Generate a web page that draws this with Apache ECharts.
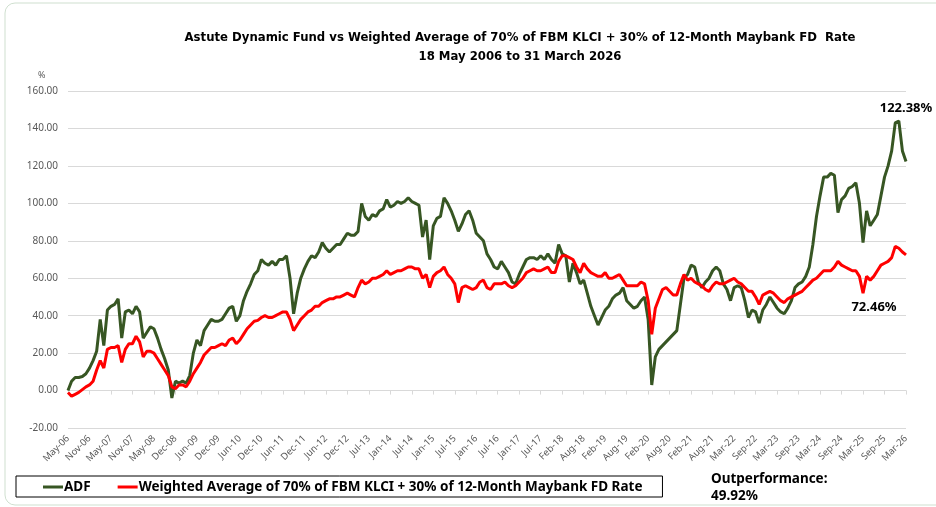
<!DOCTYPE html>
<html>
<head>
<meta charset="utf-8">
<script src="https://cdn.jsdelivr.net/npm/echarts@6/dist/echarts.min.js"></script>
<style>
  html, body { margin: 0; padding: 0; background: #fff; }
  #chart { width: 936px; height: 507px; }
</style>
</head>
<body>
<div id="chart"></div>
<script>
// tick labels on the x axis (one every 6 points)
var tickLabels = ['May-06', 'Nov-06', 'May-07', 'Nov-07', 'May-08', 'Dec-08', 'Jun-09', 'Dec-09',
    'Jun-10', 'Dec-10', 'Jun-11', 'Dec-11', 'Jun-12', 'Dec-12', 'Jul-13', 'Jan-14', 'Jul-14', 'Jan-15',
    'Jul-15', 'Jan-16', 'Jul-16', 'Jan-17', 'Jul-17', 'Feb-18', 'Aug-18', 'Feb-19', 'Aug-19', 'Feb-20',
    'Aug-20', 'Feb-21', 'Aug-21', 'Mar-22', 'Sep-22', 'Mar-23', 'Sep-23', 'Mar-24', 'Sep-24', 'Mar-25',
    'Sep-25', 'Mar-26'];

// ADF cumulative return, %
var adf = [
    0, 5, 7, 7, 7.5, 9, 12, 16, 21, 38, 24, 43,
    45, 46, 49, 28, 42, 43, 41, 45, 42, 28, 31, 34,
    33, 28, 22, 17, 11, -4, 5, 4, 5, 4, 8, 20,
    27, 24, 32, 35, 38, 37, 37, 38, 41, 44, 45, 37,
    40, 48, 53, 57, 62, 64, 70, 68, 67, 69, 67, 70,
    70, 72, 60, 41, 52, 60, 65, 69, 72, 71, 74, 79,
    76, 74, 76, 78, 78, 81, 84, 83, 83, 85, 100, 93,
    91, 94, 93, 96, 97, 102, 98, 99, 101, 100, 101, 103,
    101, 100, 99, 82, 91, 70, 88, 92, 93, 103, 100, 96,
    91, 85, 89, 94, 96, 91, 84, 82, 80, 73, 70, 66,
    65, 69, 66, 63, 58, 57, 62, 66, 70, 71, 71, 70,
    72, 70, 73, 70, 68, 78, 73, 72, 58, 68, 63, 57,
    59, 52, 45, 40, 35, 39, 43, 45, 49, 51, 52, 55,
    48, 46, 44, 45, 48, 50, 38, 3, 18, 22, 24, 26,
    28, 30, 32, 46, 60, 62, 67, 66, 58, 55, 58, 60,
    64, 66, 64, 57, 54, 48, 55, 56, 55, 48, 39, 43,
    42, 36, 43, 46, 50, 47, 44, 42, 41, 44, 48, 55,
    57, 58, 61, 66, 78, 93, 104, 114, 114, 116, 115, 95,
    102, 104, 108, 109, 111, 100, 79, 96, 88, 91, 94, 104,
    114, 120, 128, 143, 144, 128, 122.38
];

// 70% FBM KLCI + 30% 12-month Maybank FD rate, %
var benchmark = [
    -1, -3, -2, -1, 0.5, 2, 3, 5, 11, 16, 12, 22,
    23, 23, 24, 15, 22, 25, 25, 29, 26, 18, 21, 21,
    20, 17, 14, 11, 8, 2, 1, 3, 3, 2, 5, 9,
    12, 15, 19, 21, 23, 23, 24, 25, 24, 27, 28, 25,
    27, 30, 33, 35, 37, 37.5, 39, 40, 39, 39, 40, 41,
    42, 42, 38, 32, 35, 38, 40, 42, 43, 45, 45, 47,
    48, 49, 49, 50, 50, 51, 52, 51, 50, 55, 59, 57,
    58, 60, 60, 61, 62, 64, 62, 63, 64, 64, 65, 66,
    66, 65, 65, 60, 62, 55, 61, 63, 64, 66, 62, 60,
    57, 47, 55, 56, 55, 54, 55, 58, 59, 55, 54, 57,
    57, 57, 58, 56, 55, 56, 58, 60, 63, 64, 65, 64,
    64, 65, 66, 63, 63, 69, 72, 72, 71, 70, 66, 63,
    68, 65, 63, 62, 61, 61, 63, 60, 60, 61, 62, 59,
    56, 56, 56, 56, 58, 57, 48, 30, 44, 49, 54, 55,
    53, 51, 51, 57, 62, 59, 60, 58, 57, 56, 54, 53,
    56, 58, 57, 57, 58, 59, 60, 58, 57, 55, 53, 53,
    50, 46, 51, 52, 53, 52, 50, 48, 47, 49, 50, 51,
    52, 53, 55, 57, 59, 60, 62, 64, 64, 64, 66, 69,
    67, 66, 65, 64, 64, 61, 52, 61, 59, 61, 64, 67,
    68, 69, 71, 77, 76, 74, 72.46
];

var adfName = 'ADF';
var benchName = 'Weighted Average of 70% of FBM KLCI + 30% of 12-Month Maybank FD Rate';

var categories = adf.map(function (v, i) {
    var k = Math.floor(i / 6);
    return i % 6 === 0 ? tickLabels[k] : tickLabels[k] + ' ' + (i % 6);
});
var last = adf.length - 1;

var myChart = echarts.init(document.getElementById('chart'));

myChart.setOption({
    animation: false,
    textStyle: { fontFamily: 'Noto Sans' },
    title: {
        text: 'Astute Dynamic Fund vs Weighted Average of 70% of FBM KLCI + 30% of 12-Month Maybank FD  Rate\n18 May 2006 to 31 March 2026',
        left: 515,
        top: 23,
        textAlign: 'center',
        textStyle: {
            fontFamily: '"DejaVu Sans Condensed", "Liberation Sans Narrow", sans-serif',
            fontWeight: 'bold',
            fontSize: 13,
            lineHeight: 19,
            color: '#000'
        }
    },
    legend: {
        left: 16,
        top: 476,
        padding: [4, 20, 3, 27],
        itemGap: 27,
        itemWidth: 20,
        itemHeight: 3,
        borderColor: '#000',
        borderWidth: 1,
        borderRadius: 0,
        icon: 'rect',
        textStyle: { fontWeight: 'bold', fontSize: 13.5, color: '#000', padding: [0, 0, 0, -4] },
        data: [adfName, benchName]
    },
    grid: {
        left: 68,
        right: 30,
        top: 91,
        bottom: 79
    },
    xAxis: [
        {
            type: 'category',
            data: categories,
            boundaryGap: false,
            axisLine: { show: false, onZero: false },
            axisTick: { show: false },
            axisLabel: {
                interval: 5,
                rotate: 45,
                margin: 9,
                fontSize: 9.5,
                color: '#595959'
            },
            splitLine: { show: false }
        },
        {
            type: 'category',
            data: categories,
            boundaryGap: false,
            position: 'bottom',
            axisLine: { show: true, onZero: true, lineStyle: { color: '#d9d9d9' } },
            axisTick: { show: true, interval: 5, length: 4, lineStyle: { color: '#d9d9d9' } },
            axisLabel: { show: false },
            splitLine: { show: false }
        }
    ],
    yAxis: {
        type: 'value',
        min: -20,
        max: 160,
        interval: 20,
        axisLine: { show: false },
        axisTick: { show: false },
        axisLabel: {
            margin: 10,
            fontSize: 10,
            color: '#595959',
            formatter: function (v) { return v.toFixed(2); }
        },
        splitLine: { lineStyle: { color: '#d9d9d9', width: 1 } }
    },
    graphic: [
        {
            type: 'rect',
            shape: { x: 5, y: 3, width: 945, height: 502, r: 10 },
            style: { fill: 'none', stroke: '#cfdfcf', lineWidth: 1 },
            silent: true,
            z: -10
        },
        {
            type: 'text',
            left: 38,
            top: 71,
            style: { text: '%', fontSize: 9, fill: '#595959', fontFamily: 'Noto Sans' }
        },
        {
            type: 'text',
            left: 711,
            top: 471,
            style: {
                text: 'Outperformance:\n49.92%',
                fontSize: 13.5,
                lineHeight: 17,
                fontWeight: 'bold',
                fill: '#000',
                fontFamily: 'Noto Sans'
            }
        }
    ],
    series: [
        {
            name: adfName,
            type: 'line',
            data: adf,
            showSymbol: false,
            symbol: 'none',
            lineStyle: { color: '#375623', width: 3 },
            itemStyle: { color: '#375623' },
            markPoint: {
                symbol: 'circle',
                symbolSize: 0,
                label: {
                    show: true,
                    offset: [0, -53],
                    fontWeight: 'bold',
                    fontSize: 13,
                    color: '#000',
                    formatter: '{c}%'
                },
                data: [{ coord: [last, adf[last]], value: adf[last] }]
            }
        },
        {
            name: benchName,
            type: 'line',
            data: benchmark,
            showSymbol: false,
            symbol: 'none',
            lineStyle: { color: '#ff0000', width: 3 },
            itemStyle: { color: '#ff0000' },
            markPoint: {
                symbol: 'circle',
                symbolSize: 0,
                label: {
                    show: true,
                    offset: [-32, 52],
                    fontWeight: 'bold',
                    fontSize: 13,
                    color: '#000',
                    formatter: '{c}%'
                },
                data: [{ coord: [last, benchmark[last]], value: benchmark[last] }]
            }
        }
    ]
});
</script>
</body>
</html>
